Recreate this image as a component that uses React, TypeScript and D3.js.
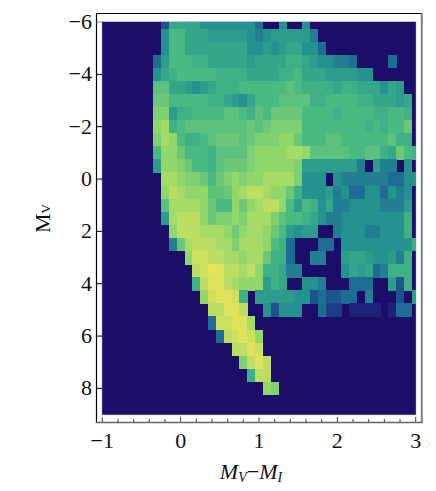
import React from 'react';
import * as d3 from 'd3';

// colour index grid, one row per MV step
const colorTicks = [-1, 0, 1, 2, 3];
const colorMinorTicks = d3.range(0, 21).map(i => -1 + i * 0.2);
const magTicks = [-6, -4, -2, 0, 2, 4, 6, 8];

const firstColumn = [
  8, 8, 8, 7, 7, 7, 7, 7, 7, 7, 7, 7, 8, 8, 8, 8,
  9, 9, 11, 12, 12, 13, 14, 14, 15, 17, 18, 19, 21, 0, 0,
];

const densityRows: number[][] = [
  [1.5, 4, 4, 4, 4, 3, 3, 3, 3, 3, 3, 3, 2, 0, 0, 3, 0, 0, 3],
  [3, 5, 5, 4, 4, 4, 3.5, 3.5, 3.5, 3.5, 3.5, 3, 2.5, 3, 3.5, 3.5, 3.5, 3.5, 3.5, 2.5],
  [3, 5, 5, 4, 4, 4, 4, 4, 4, 4, 4, 3, 3, 3.5, 3, 3.5, 4, 4, 3, 3, 2],
  [2, 3.5, 5, 5, 5, 4.5, 4.5, 4, 4, 4, 4, 4, 3.5, 4, 4, 4, 4, 4.5, 4.5, 4, 3.5, 3, 3, 2.5, 2.5, 2, 0, 0, 0, 0, 2],
  [3, 4, 4.5, 5, 5, 5, 5, 5, 4.5, 4.5, 4.5, 4.5, 4, 4, 4, 4, 4.5, 4.5, 5, 4, 4, 4, 3.5, 3.5, 3.5, 3.5, 3, 3],
  [5.5, 5.5, 4, 4, 3.5, 3, 3.5, 4, 4.5, 4.5, 4.5, 5, 5, 5, 5, 5, 5, 5.5, 5, 4.5, 4.5, 4.5, 4.5, 4, 4.5, 4.5, 4, 4, 4, 3, 4, 3.5],
  [6, 6, 5, 5, 5, 5, 5, 4.5, 4.5, 4, 3.5, 3, 4, 5, 5, 5, 5.5, 5.5, 5.5, 5.5, 4.5, 4.5, 5, 5, 5, 5, 4.5, 4.5, 4, 4, 4, 3.5, 4],
  [6.5, 6.5, 3.5, 4.5, 4.5, 5, 5, 5, 5, 5.5, 5.5, 5, 4.5, 5.5, 5, 6, 6, 6, 6, 5, 5, 5, 5, 4.5, 5, 5, 5, 5, 4.5, 4.5, 5, 5, 4.5],
  [7, 7.5, 4.5, 5, 5.5, 5.5, 5.5, 5.5, 5.5, 5.5, 5.5, 5.5, 6, 5.5, 6, 6.5, 6.5, 6.5, 6.5, 5, 5, 5, 5, 5, 5, 5, 5, 4.5, 5, 4.5, 5, 5, 6],
  [6.5, 7.5, 7, 5, 4.5, 4.5, 5, 5.5, 6, 6, 6, 5.5, 6, 6.5, 6.5, 6.5, 7, 7, 6, 5, 5, 5, 5.5, 5.5, 5, 5, 5, 5, 5, 5, 5.5, 4.5, 4.5],
  [5, 7, 7, 6, 5, 5, 5, 4.5, 5.5, 5.5, 5.5, 5.5, 6.5, 7, 7, 7, 7, 7.5, 7.5, 7, 5.5, 5.5, 5.5, 5.5, 5.5, 5, 5, 5.5, 5.5, 4.5, 4, 6, 5, 4.5],
  [3.5, 7, 7, 6.5, 6, 5, 5, 4.5, 5.5, 6, 6, 6, 6.5, 7, 7, 7, 7, 7, 6.5, 3.5, 3.5, 3.5, 3.5, 3.5, 3.5, 3.5, 2.5, 0, 3.5, 2.5, 2.5, 0, 3],
  [7.5, 7.5, 7, 6.5, 6.5, 6, 5, 6, 6.5, 7, 6.5, 7, 7, 7.5, 7.5, 7.5, 7.5, 6.5, 3, 3, 3, 0, 3, 2.5, 2.5, 2.5, 2.5, 2.5, 2.5, 2, 2, 3, 3],
  [7, 8, 7.5, 7, 7, 7, 5.5, 5.5, 6, 7, 7.5, 8, 8, 7.5, 7, 7, 6, 4.5, 3, 3, 3, 3.5, 2.5, 3, 2, 2, 3, 3, 2, 3, 2.5, 3],
  [5.5, 7.5, 7.5, 7.5, 7.5, 7, 6, 5, 5, 7, 6, 7, 7.5, 8, 8, 7, 5, 3.5, 5, 4.5, 3, 4, 2.5, 2.5, 3, 3, 3, 3, 2.5, 2.5, 2.5, 3.5],
  [3.5, 7.5, 8, 8, 8, 7, 6, 6.5, 6.5, 7, 6.5, 7.5, 7.5, 7.5, 6.5, 5.5, 5, 5, 4.5, 4, 3, 2.5, 2.5, 3, 3, 3, 3, 3, 3, 3, 3, 4.5],
  [7, 8, 8, 8, 7.5, 7.5, 7.5, 7, 6, 7, 7.5, 7.5, 7, 6, 5, 3.5, 3, 3.5, 3.5, 0, 0, 2.5, 3, 3, 3, 2.5, 2.5, 3, 3, 3, 4.5],
  [2.5, 6, 7.5, 8, 8, 8, 7.5, 7.5, 6.5, 7.5, 7.5, 7.5, 7, 5, 4.5, 2, 0, 0, 0, 2, 2, 0, 3, 3, 3, 3, 3, 3, 3, 3, 3, 4.5],
  [7, 8.5, 8.5, 8, 8, 7.5, 7.5, 7, 7.5, 7.5, 6, 4.5, 4.5, 2, 0, 0, 2.5, 2.5, 0, 0, 3.5, 4, 4, 3.5, 3, 3, 3.5, 2.5, 4.5],
  [8, 8.5, 9.5, 9, 8, 8, 7.5, 8, 7, 4.5, 4.5, 4, 2.5, 2.5, 0, 0, 0, 0, 0, 3, 4, 3.5, 4, 2, 2.5, 4.5, 4.5, 4.5],
  [4.5, 8, 9, 9, 8, 7.5, 7, 7, 7, 3.5, 4.5, 4, 0, 0, 3, 3, 2.5, 0, 0, 0, 2, 2, 2, 0, 0, 3.5, 1.5, 4.5],
  [7, 8.5, 9, 9, 8.5, 4.5, 0, 3.5, 3.5, 3.5, 3.5, 3.5, 3, 3, 1.5, 2, 1.5, 1.5, 2, 2, 0, 2.5, 0, 0, 0, 1.5, 0, 3.5],
  [8, 8, 9, 9, 8, 0, 0, 3, 1.5, 3, 3, 3, 0, 0, 2, 1, 1, 0, 0.5, 0.5, 0.5, 0.5, 0, 0.5, 2, 2],
  [2, 8.5, 8.5, 9, 9, 7.5],
  [2, 8, 8.5, 9, 8.5, 7],
  [8, 8, 9, 8.5],
  [6.5, 8, 9, 8],
  [4.5, 8, 8],
  [7, 6.5],
  [],
  [],
];

const colorStops = [0, 1, 2, 3, 4, 5, 6, 7, 8, 9, 9.5];
const colorRange = [
  '#1f0a68', '#1d3c88', '#1c6c93', '#26928f', '#35a68a', '#4cb982',
  '#6cc878', '#92d76b', '#bcde62', '#e0e25c', '#e8e45a',
];

const left = 102.3;
const right = 415.7;
const top = 22;
const bottom = 414.6;
const serif = '"Liberation Serif", "Times New Roman", serif';

const x = d3.scaleLinear().domain([-1, 3]).range([left, right]).clamp(true);
const y = d3.scaleLinear().domain([-6, 9]).range([top, bottom]).clamp(true);
const color = d3.scaleLinear<string>().domain(colorStops).range(colorRange);

const minus = (v: number) => (v < 0 ? '\u2212' + Math.abs(v) : String(v));

export default function App() {
  const cells = densityRows.flatMap((row, j) =>
    row.map((v, k) => {
      const cx = -1 + (firstColumn[j] + k) * 0.1;
      const cy = -6 + j * 0.5;
      return { v, x0: x(cx - 0.05), x1: x(cx + 0.05), y0: y(cy - 0.25), y1: y(cy + 0.25), key: j + '-' + k };
    }),
  );

  return (
    <svg width={436} height={491} style={{ position: 'absolute', left: 0, top: 0 }}>
      <defs>
        <filter id="soft" x="0" y="0" width="100%" height="100%">
          <feGaussianBlur stdDeviation={0.5} />
        </filter>
        <clipPath id="plot">
          <rect x={left} y={top} width={right - left} height={bottom - top} />
        </clipPath>
      </defs>
      <rect x={0} y={0} width={436} height={491} fill="#fff" />
      <rect x={left} y={top} width={right - left} height={bottom - top} fill={color(0)} stroke="#8f86b8" strokeWidth={1} />
      <g clipPath="url(#plot)">
        <g filter="url(#soft)" shapeRendering="crispEdges">
          <rect x={left} y={top} width={right - left} height={bottom - top} fill={color(0)} />
          {cells.filter(c => c.v > 0).map(c => (
            <rect key={c.key} x={c.x0} y={c.y0} width={c.x1 - c.x0 + 0.4} height={c.y1 - c.y0 + 0.4} fill={color(c.v)} />
          ))}
        </g>
      </g>

      {/* frame */}
      <line x1={96.5} x2={96.5} y1={13} y2={423} stroke="#000" strokeWidth={1.2} />
      <line x1={96} x2={422} y1={13.5} y2={13.5} stroke="#000" strokeWidth={1.2} />
      <line x1={421.8} x2={421.8} y1={13} y2={423} stroke="#808080" strokeWidth={2} />
      <line x1={96} x2={422.5} y1={422.5} y2={422.5} stroke="#666" strokeWidth={1.5} />

      {/* x axis */}
      {colorMinorTicks.map(t => (
        <line key={t} x1={x(t)} x2={x(t)} y1={422} y2={colorTicks.includes(Math.round(t * 10) / 10) ? 417 : 419} stroke="#444" strokeWidth={1} />
      ))}
      {colorTicks.map(t => (
        <text key={t} x={x(t)} y={447.5} textAnchor="middle" fontFamily={serif} fontSize={22} fill="#111">{minus(t)}</text>
      ))}
      <text x={251} y={479} textAnchor="middle" fontFamily={serif} fontSize={22} fontStyle="italic" fill="#111">
        M<tspan fontSize={14} dy={3}>V</tspan><tspan dy={-3} fontStyle="normal">{'\u2212'}</tspan>M<tspan fontSize={14} dy={3}>I</tspan>
      </text>

      {/* y axis */}
      {magTicks.map(t => (
        <g key={t}>
          <line x1={96.5} x2={102} y1={y(t)} y2={y(t)} stroke={t === -6 ? '#808080' : '#000'} strokeWidth={1} />
          <text x={92} y={y(t) + 7} textAnchor="end" fontFamily={serif} fontSize={22} fill="#111">{minus(t)}</text>
        </g>
      ))}
      <text transform="translate(50,233) rotate(-90)" fontFamily={serif} fontSize={22} fill="#111">
        M<tspan fontSize={13}>V</tspan>
      </text>
    </svg>
  );
}
